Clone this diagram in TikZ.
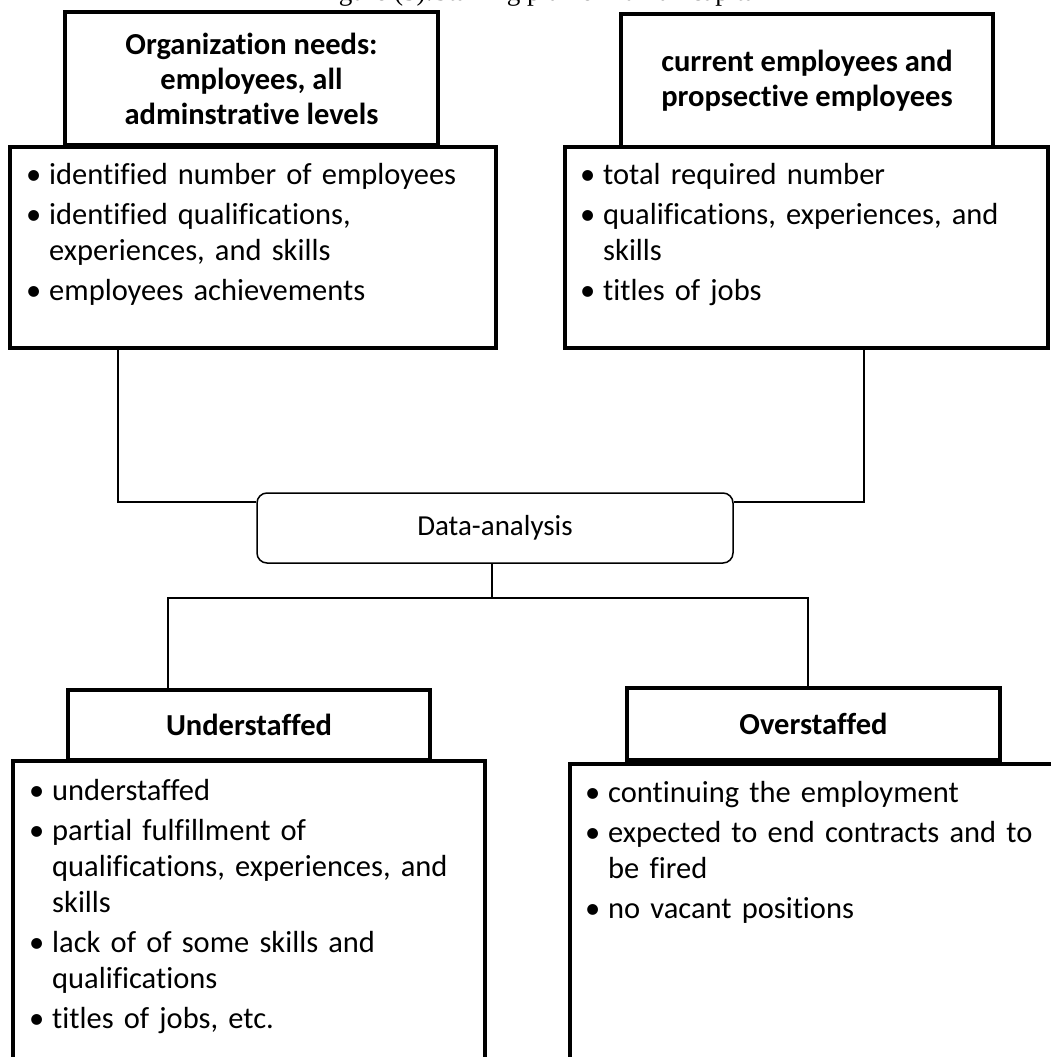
\documentclass[tikz,border=0pt]{standalone}
\usepackage{fontspec}
\setmainfont{Carlito}[Ligatures={CommonOff}]
\newfontfamily\capfont{Liberation Serif}
\newcommand{\bodyfnt}{\fontsize{30.5}{36}\selectfont\parskip=4pt}
\newcommand{\headfnt}{\fontsize{30.5}{35}\selectfont\bfseries}
\newcommand{\bitem}[1]{\hangindent=23pt\hangafter=1\noindent\hbox to 23pt{\textbullet\hfil}#1\par}
\begin{document}
\begin{tikzpicture}[x=1pt,y=-1pt,
  headbox/.style={draw, line width=4pt, fill=white, inner sep=0pt, font=\headfnt, align=center},
  bodybox/.style={draw, line width=4pt, fill=white, inner sep=0pt},
  bodytext/.style={inner sep=0pt, text width=480pt, font=\bodyfnt, align=left, anchor=north west},
  midbox/.style={draw, line width=1.5pt, fill=white, rounded corners=10pt, inner sep=0pt, font=\fontsize{29}{34}\selectfont},
  conn/.style={line width=1.5pt}]
\useasboundingbox (0,0) rectangle (1051,1057);

% caption (cut off at top)
\node[anchor=base west, inner sep=0pt, font=\capfont\fontsize{27.2}{30}\selectfont] (cap) at (316,1) {Figure (5):Staffing plan of human capital};

% top left
\node[headbox, minimum width=373pt, minimum height=133pt] (lh) at (251.5,78.5) {Organization needs:\\employees, all\\adminstrative levels};
\node[bodybox, minimum width=486pt, minimum height=201pt] (lb) at (253,247.5) {};
\node[bodytext] (lbt) at (26,163) {\bitem{identified number of employees}\bitem{identified qualifications,\newline experiences, and skills}\bitem{employees achievements}};

% top right
\node[headbox, minimum width=372pt, minimum height=133pt] (rh) at (807,80.5) {current employees and\\propsective employees};
\node[bodybox, minimum width=483pt, minimum height=201pt] (rb) at (806.5,247.5) {};
\node[bodytext] (rbt) at (580,163) {\bitem{total required number}\bitem{qualifications, experiences, and\newline skills}\bitem{titles of jobs}};

% middle
\node[midbox, minimum width=476pt, minimum height=70pt] (da) at (495,528) {Data-analysis};

% bottom left
\node[headbox, minimum width=362pt, minimum height=70pt] (uh) at (249,725) {Understaffed};
\node[bodybox, minimum width=472pt, minimum height=340pt] (ub) at (249,931) {};
\node[bodytext] (ubt) at (29,779) {\bitem{understaffed}\bitem{partial fulfillment of\newline qualifications, experiences, and\newline skills}\bitem{lack of of some skills and\newline qualifications}\bitem{titles of jobs, etc.}};

% bottom right
\node[headbox, minimum width=373pt, minimum height=72pt] (oh) at (813.5,724) {Overstaffed};
\node[bodybox, minimum width=530pt, minimum height=340pt] (ob) at (835,934) {};
\node[bodytext] (obt) at (585,781) {\bitem{continuing the employment}\bitem{expected to end contracts and to\newline be fired}\bitem{no vacant positions}};

% connectors
\coordinate (c1) at (118,502);
\coordinate (c2) at (864,502);
\coordinate (j) at (492,598);
\coordinate (u1) at (168,598);
\coordinate (o1) at (808,598);
\draw[conn] (lb.south -| c1) -- (c1) -- (c1 -| da.west);
\draw[conn] (rb.south -| c2) -- (c2) -- (c2 -| da.east);
\draw[conn] (da.south -| j) -- (j);
\draw[conn] (u1 |- uh.north) -- (u1) -- (o1) -- (o1 |- oh.north);
\end{tikzpicture}
\end{document}
